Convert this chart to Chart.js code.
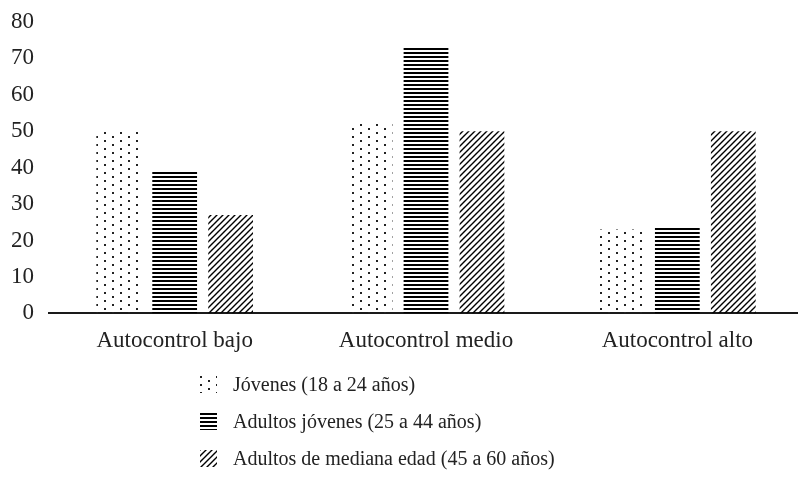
<!DOCTYPE html>
<html>
<head>
<meta charset="utf-8">
<script src="https://cdn.jsdelivr.net/npm/chart.js@4"></script>
<style>
  html, body { margin: 0; padding: 0; overflow: hidden; background: #fff; }
  #wrap { position: relative; width: 806px; height: 478px; }
  #legend { position: absolute; left: 200px; top: 366px; font-family: 'Liberation Serif', serif; font-size: 20px; color: #222; }
  #legend .row { display: flex; align-items: center; height: 37px; }
  #legend canvas { margin-right: 16px; }
</style>
</head>
<body>
<div id="wrap">
  <canvas id="chart" width="806" height="478"></canvas>
  <div id="legend"></div>
</div>
<script>
// data
const categories = ['Autocontrol bajo', 'Autocontrol medio', 'Autocontrol alto'];
const seriesNames = ['Jóvenes (18 a 24 años)', 'Adultos jóvenes (25 a 44 años)', 'Adultos de mediana edad (45 a 60 años)'];
const jovenes = [50, 52, 23];
const adultosJovenes = [39, 73, 24];
const medianaEdad = [27, 50, 50];
const yTicks = [0, 10, 20, 30, 40, 50, 60, 70, 80];

const FONT = { family: "'Liberation Serif', serif", size: 23 };
const TEXT = '#222';

// fill patterns like the excel ones
function makeTile(kind) {
  const c = document.createElement('canvas');
  const g = c.getContext('2d');
  g.fillStyle = '#000';
  g.strokeStyle = '#000';
  if (kind === 'dots') {
    c.width = 16; c.height = 8;
    g.fillStyle = '#222';
    g.fillRect(0, 0, 2, 2);
    g.fillRect(8, 4, 2, 2);
  } else if (kind === 'hlines') {
    c.width = 4; c.height = 4;
    g.fillRect(0, 0, 4, 2);
  } else {
    c.width = 6; c.height = 6;
    g.lineWidth = 1.4;
    g.beginPath();
    g.moveTo(-1, 7); g.lineTo(7, -1);
    g.moveTo(-1, 1); g.lineTo(1, -1);
    g.moveTo(5, 7); g.lineTo(7, 5);
    g.stroke();
  }
  return c;
}

const ctx = document.getElementById('chart').getContext('2d');
const kinds = ['dots', 'hlines', 'diag'];
const fills = kinds.map(k => ctx.createPattern(makeTile(k), 'repeat'));
const values = [jovenes, adultosJovenes, medianaEdad];

new Chart(ctx, {
  type: 'bar',
  data: {
    labels: categories,
    datasets: seriesNames.map((name, i) => ({
      label: name,
      data: values[i],
      backgroundColor: fills[i],
      borderWidth: 0,
      categoryPercentage: 0.668,
      barPercentage: 0.8
    }))
  },
  options: {
    responsive: false,
    animation: false,
    layout: { padding: { left: 0, right: 3, top: 22, bottom: 109 } },
    plugins: { legend: { display: false }, tooltip: { enabled: false } },
    scales: {
      x: {
        grid: { display: false, drawTicks: false },
        border: { display: true, color: '#1a1a1a', width: 2 },
        ticks: { font: FONT, color: TEXT, padding: 14 }
      },
      y: {
        min: yTicks[0],
        max: yTicks[yTicks.length - 1],
        afterBuildTicks: s => { s.ticks = yTicks.map(v => ({ value: v })); },
        afterFit: s => { s.width = 49; s.paddingTop = 0; s.paddingBottom = 0; },
        grid: { display: false, drawTicks: false },
        border: { display: false },
        ticks: { font: FONT, color: TEXT, padding: 15 }
      }
    }
  }
});

// legend below, one item per row
const legend = document.getElementById('legend');
seriesNames.forEach((name, i) => {
  const row = document.createElement('div');
  row.className = 'row';
  const sw = document.createElement('canvas');
  sw.width = 17; sw.height = 17;
  const sg = sw.getContext('2d');
  sg.fillStyle = sg.createPattern(makeTile(kinds[i]), 'repeat');
  sg.fillRect(0, 0, 17, 17);
  row.appendChild(sw);
  const t = document.createElement('span');
  t.textContent = name;
  row.appendChild(t);
  legend.appendChild(row);
});
</script>
</body>
</html>
